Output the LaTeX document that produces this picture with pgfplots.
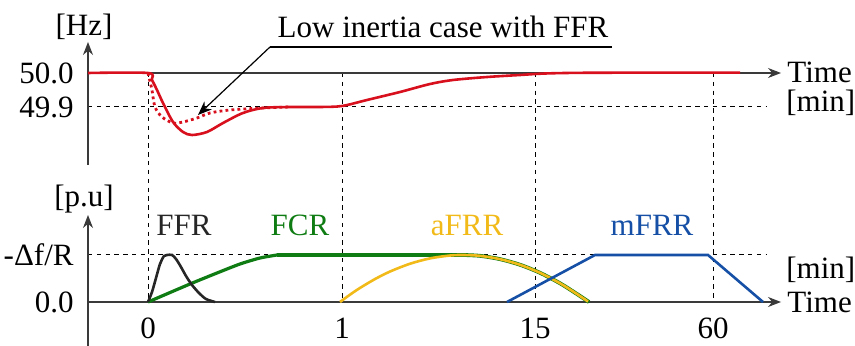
\documentclass[border=0pt]{standalone}
\usepackage{fontspec}
\setmainfont{Liberation Serif}
\newfontfamily\tms{Liberation Serif}
\usepackage{pgfplots}
\pgfplotsset{compat=1.18}
\usetikzlibrary{arrows.meta}
\definecolor{cred}{HTML}{D8101E}
\definecolor{cgreen}{HTML}{0E7C12}
\definecolor{cyellow}{HTML}{F2BA18}
\definecolor{cblue}{HTML}{1550A6}
\definecolor{cffr}{HTML}{262626}
\definecolor{caxis}{HTML}{3A3A3A}
\begin{document}
\rmfamily\fontsize{15.5}{18}\selectfont
\begin{tikzpicture}[font=\tms\fontsize{15.5}{18}\selectfont]
\pgfplotsset{
  panel/.style={scale only axis, width=427.5pt, hide axis, clip=false,
    xmin=0, xmax=855},
}
\tikzset{
  ax/.style={draw=caxis, line width=0.6pt, -{Stealth[length=6.5pt,width=5pt]}},
  dsh/.style={black, line width=0.5pt, dash pattern=on 2.2pt off 2.2pt},
}
% ---------------- top panel: frequency ----------------
\begin{axis}[panel, height=85pt, ymin=49.7147, ymax=50.2147,
  at={(0,0)}, anchor=north west]
  \draw[dsh] (axis cs:88,49.9) -- (axis cs:767,49.9);
  \draw[dsh] (axis cs:148,50) -- (axis cs:148,49.7147);
  \draw[dsh] (axis cs:342,50) -- (axis cs:342,49.7147);
  \draw[dsh] (axis cs:535,50) -- (axis cs:535,49.7147);
  \draw[dsh] (axis cs:713,50) -- (axis cs:713,49.7147);
  \draw[ax] (axis cs:88,50) -- (axis cs:781,50);
  \draw[ax] (axis cs:88,49.7294) -- (axis cs:88,50.0912);
  % low inertia case with FFR (dotted)
  \addplot[cred, line width=1.4pt, dash pattern=on 1.4pt off 1.6pt, smooth, tension=0.5] coordinates {
    (148,50) (150,49.975) (152,49.95) (155,49.9) (162,49.8706) (173,49.8529)
    (183,49.8559) (197,49.8676) (210,49.8824) (230,49.8912) (263,49.8971)
    (290,49.9)};
  % base case (solid)
  \addplot[cred, line width=1.3pt, smooth, tension=0.5] coordinates {
    (88,50) (148,50) (152,49.9794) (157,49.95) (163,49.9118) (173,49.8559)
    (183,49.8265) (192,49.8176) (207,49.8265) (223,49.8529) (243,49.8824)
    (263,49.8971) (290,49.9) (320,49.9) (342,49.9029) (367,49.9206)
    (400,49.9441) (430,49.9676) (453,49.9794) (487,49.9882) (520,49.9941)
    (545,49.9985) (580,50.0005) (650,50.001) (740,50.001)};
  \node at (axis cs:84,50.1353) {[Hz]};
  \node[anchor=east, inner sep=0pt] at (axis cs:74,50) {50.0};
  \node[anchor=east, inner sep=0pt] at (axis cs:74,49.9) {49.9};
  \node[anchor=west, inner sep=0pt] at (axis cs:787,50.001) {Time};
  \node[anchor=west, inner sep=0pt] at (axis cs:786,49.9118) {[min]};
  \node at (axis cs:443,50.1353) {Low inertia case with FFR};
  \draw[black, line width=0.6pt] (axis cs:612,50.0765) -- (axis cs:270,50.0765);
  \draw[black, line width=0.6pt, -{Stealth[length=7pt,width=5.5pt]}]
    (axis cs:270,50.0765) -- (axis cs:198,49.8765);
\end{axis}
% ---------------- bottom panel: reserves ----------------
\begin{axis}[panel, height=88pt, ymin=-0.9362, ymax=2.8085,
  at={(0,-85pt)}, anchor=north west]
  \draw[dsh] (axis cs:88,1) -- (axis cs:767,1);
  \draw[dsh] (axis cs:148,2.8085) -- (axis cs:148,0);
  \draw[dsh] (axis cs:342,2.8085) -- (axis cs:342,0);
  \draw[dsh] (axis cs:535,2.8085) -- (axis cs:535,0);
  \draw[dsh] (axis cs:713,2.8085) -- (axis cs:713,0);
  \draw[ax] (axis cs:88,0) -- (axis cs:781,0);
  \draw[ax] (axis cs:88,-0.9362) -- (axis cs:88,1.851);
  % FCR
  \addplot[cgreen, line width=1.6pt, smooth, tension=0.4] coordinates {
    (148,0) (190,0.383) (217,0.617) (240,0.8085) (260,0.9362) (277,1)};
  \addplot[cgreen, line width=1.6pt] coordinates {(277,1) (463,1)};
  \addplot[cgreen, line width=1.9pt, smooth, tension=0.5] coordinates {
    (463,1) (480,0.982) (500,0.912) (520,0.792) (540,0.621) (560,0.398)
    (575,0.197) (589,0)};
  % aFRR
  \addplot[cyellow, line width=1.3pt, smooth, tension=0.5] coordinates {
    (340,0) (350,0.156) (360,0.299) (375,0.488) (390,0.648) (410,0.814)
    (430,0.928) (450,0.989) (463,1) (480,0.982) (500,0.912) (520,0.792)
    (540,0.621) (560,0.398) (575,0.197) (588,0.01)};
  % FFR
  \addplot[cffr, line width=1.3pt, smooth, tension=0.5] coordinates {
    (148,0) (152,0.2128) (156,0.5106) (160,0.8085) (164,0.9787) (167,1)
    (172,1) (176,0.9149) (181,0.7447) (186,0.5532) (192,0.3617)
    (199,0.1915) (206,0.0638) (215,0)};
  % mFRR
  \addplot[cblue, line width=1.3pt] coordinates {
    (507,0) (595,1) (708,1) (763,0)};
  \node at (axis cs:84,2.1915) {[p.u]};
  \node[anchor=east, inner sep=0pt] at (axis cs:74,1) {-Δf/R};
  \node[anchor=east, inner sep=0pt] at (axis cs:74,0) {0.0};
  \node[anchor=west, inner sep=0pt] at (axis cs:787,0) {Time};
  \node[anchor=west, inner sep=0pt] at (axis cs:786,0.681) {[min]};
  \node at (axis cs:148,-0.553) {0};
  \node at (axis cs:342,-0.553) {1};
  \node at (axis cs:535,-0.553) {15};
  \node at (axis cs:713,-0.553) {60};
  \node[text=cffr] at (axis cs:184,1.638) {FFR};
  \node[text=cgreen] at (axis cs:300,1.638) {FCR};
  \node[text=cyellow] at (axis cs:467,1.638) {aFRR};
  \node[text=cblue] at (axis cs:652,1.638) {mFRR};
\end{axis}
\pgfresetboundingbox
\path (0,0) rectangle (427.5pt,-173pt);
\end{tikzpicture}
\end{document}
